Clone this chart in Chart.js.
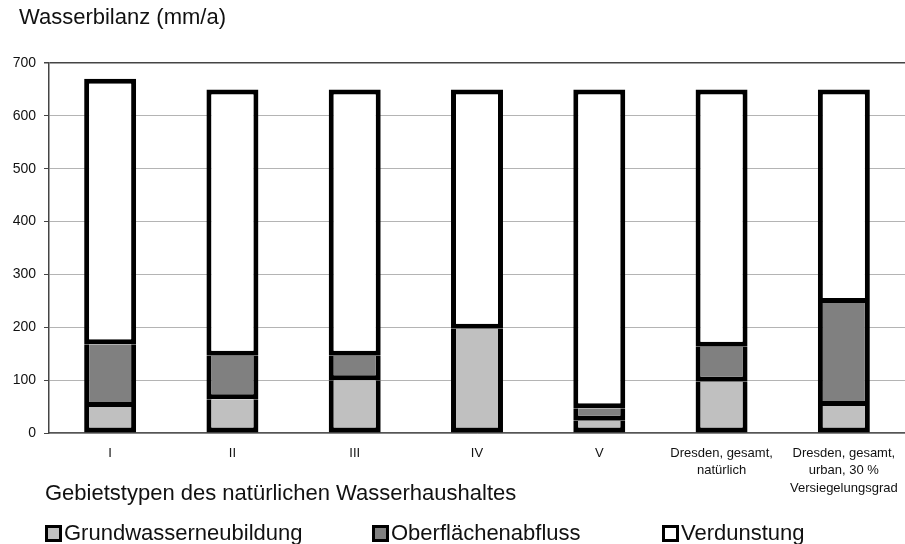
<!DOCTYPE html>
<html>
<head>
<meta charset="utf-8">
<script src="https://cdn.jsdelivr.net/npm/chart.js@4/dist/chart.umd.min.js"></script>
<style>
  html, body { margin: 0; padding: 0; background: #fff; }
  #wrap { position: relative; width: 905px; height: 544px; overflow: hidden; font-family: "Liberation Sans", Arial, sans-serif; color: #111; }
  #c { position: absolute; left: 0; top: 0; }
  .txt { position: absolute; font-size: 22px; line-height: 22px; white-space: nowrap; }
  .box { position: absolute; width: 11px; height: 11px; border: 3px solid #000; }
</style>
</head>
<body>
<div id="wrap">
  <canvas id="c" width="905" height="544"></canvas>
  <div class="txt" id="title" style="left:19px; top:6px;">Wasserbilanz (mm/a)</div>
  <div class="txt" id="xtitle" style="left:45px; top:482px;">Gebietstypen des natürlichen Wasserhaushaltes</div>
  <div id="legend"></div>
</div>
<script>
const categories = ['I', 'II', 'III', 'IV', 'V', ['Dresden, gesamt,', 'natürlich'], ['Dresden, gesamt,', 'urban, 30 %', 'Versiegelungsgrad']];
const seriesNames = ['Grundwasserneubildung', 'Oberflächenabfluss', 'Verdunstung'];
const grundwasser = [49, 64, 100, 197, 23, 97, 51];
const oberflaeche = [119, 82, 46, null, 24, 66, 195];
const verdunstung = [502, 504, 504, 453, 603, 487, 404];
const yTicks = [0, 100, 200, 300, 400, 500, 600, 700];

const fills = ['#c0c0c0', '#808080', '#ffffff'];
const legendX = [45, 372, 662];

// legend (HTML text)
const lg = document.getElementById('legend');
seriesNames.forEach((n, i) => {
  const b = document.createElement('div');
  b.className = 'box';
  b.style.left = legendX[i] + 'px';
  b.style.top = '525px';
  b.style.background = fills[i];
  lg.appendChild(b);
  const t = document.createElement('div');
  t.className = 'txt';
  t.style.left = (legendX[i] + 19) + 'px';
  t.style.top = '522px';
  t.textContent = n;
  lg.appendChild(t);
});

const series = [grundwasser, oberflaeche, verdunstung];
const datasets = series.map((d, i) => ({
  label: seriesNames[i],
  data: d,
  backgroundColor: fills[i],
  borderColor: '#000',
  borderWidth: i < 2 ? {top: 0, left: 5, right: 5, bottom: 5} : 5,
  borderSkipped: false,
  categoryPercentage: 1.0,
  barPercentage: 0.425
}));

new Chart(document.getElementById('c'), {
  type: 'bar',
  data: { labels: categories, datasets },
  options: {
    responsive: false,
    animation: false,
    layout: { padding: { top: 63, left: 0, right: 0, bottom: 0 } },
    plugins: { legend: { display: false }, tooltip: { enabled: false } },
    scales: {
      x: {
        stacked: true,
        grid: { display: false, drawTicks: false },
        border: { display: true, color: '#555', width: 1.5 },
        ticks: {
          color: '#111',
          font: { family: '"Liberation Sans", Arial, sans-serif', size: 13, lineHeight: 1.38 },
          padding: 11,
          maxRotation: 0,
          autoSkip: false
        },
        afterFit: s => { s.height = 544 - 433; s.paddingRight = 0; s.paddingLeft = 0; }
      },
      y: {
        stacked: true,
        min: 0,
        max: 700,
        afterBuildTicks: s => { s.ticks = yTicks.map(v => ({ value: v })); },
        grid: {
          color: c => (c.tick && c.tick.value === 700) ? '#444' : '#b4b4b4',
          lineWidth: c => (c.tick && c.tick.value === 700) ? 1.5 : 1,
          tickColor: '#444',
          tickLength: 5
        },
        border: { display: true, color: '#444', width: 1.5 },
        ticks: {
          color: '#111',
          font: { family: '"Liberation Sans", Arial, sans-serif', size: 14 },
          padding: 8
        },
        afterFit: s => { s.width = 49; }
      }
    }
  }
});
</script>
</body>
</html>
